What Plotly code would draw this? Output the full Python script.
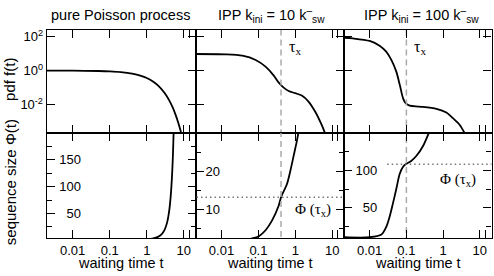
import plotly.graph_objects as go

# ---------------- data ----------------
# pure Poisson process
t_pois_pdf = [0.002, 0.01, 0.05, 0.1, 0.2, 0.4, 0.7, 1.0, 1.5, 2.0, 3.0, 4.0, 5.0, 6.0, 7.0, 8.0, 9.0]
f_pois = [1.0, 0.99, 0.951, 0.905, 0.819, 0.670, 0.497, 0.368, 0.223, 0.135, 0.0498, 0.0183,
          0.00674, 0.00248, 0.000912, 0.000335, 0.000123]
t_pois_phi = [0.8, 1.0, 1.5, 2.0, 2.5, 3.0, 3.5, 4.0, 4.5, 5.0, 5.5]
phi_pois = [1.23, 1.72, 3.48, 6.39, 11.2, 19.1, 32.1, 53.6, 89.0, 147.0, 244.0]

# IPP k_ini = 10 k_sw
t_ipp10_pdf = [0.00193, 0.0132, 0.0367, 0.0841, 0.156, 0.261, 0.356, 0.484, 0.661, 1.0, 1.50,
               2.28, 3.44, 5.19, 6.40]
f_ipp10 = [9.55, 9.12, 7.59, 4.27, 1.72, 0.513, 0.195, 0.100, 0.063, 0.0468, 0.0339,
           0.0151, 0.00389, 0.00063, 0.000204]
t_ipp10_phi = [0.05, 0.0757, 0.103, 0.156, 0.235, 0.356, 0.41, 0.594, 0.735, 0.90, 1.10, 1.23]
phi_ipp10 = [2.0, 2.4, 2.86, 4.43, 7.04, 10.95, 13.1, 16.6, 20.1, 24.0, 27.9, 30.5]
tau_ipp10 = 0.41
phi_tau_ipp10 = 13.1

# IPP k_ini = 100 k_sw
t_ipp100_pdf = [0.00193, 0.00347, 0.01, 0.0186, 0.0282, 0.0389, 0.0531, 0.0661, 0.0813, 0.0955,
                0.123, 0.229, 0.661, 1.23, 1.86, 2.82, 3.89]
f_ipp100 = [87.1, 79.4, 56.2, 29.5, 13.2, 4.27, 0.871, 0.145, 0.0234, 0.012, 0.0087, 0.0076,
            0.0056, 0.0034, 0.00158, 0.00065, 0.000204]
t_ipp100_phi = [0.00204, 0.01, 0.0209, 0.0282, 0.0347, 0.0427, 0.0531, 0.0653, 0.0804, 0.0955,
                0.135, 0.186, 0.282, 0.407]
phi_ipp100 = [11.0, 11.0, 14.6, 24.6, 37.8, 55.4, 75.1, 94.9, 104.5, 108.0, 112.4, 119.0, 132.1, 149.6]
tau_ipp100 = 0.1
phi_tau_ipp100 = 108.0

x_tickvals = [0.01, 0.1, 1, 10, 14]
x_ticktext = ["0.01", "0.1", "1", "10", ""]
pdf_tickvals = [0.01, 1, 100]
pdf_ticktext = ["10<sup>-2</sup>", "10<sup>0</sup>", "10<sup>2</sup>"]
phi_ranges = [[4.4, 200.7], [2.4, 30.1], [10, 150]]
phi_major = [[50, 100, 150], [10, 20], [50, 100]]
phi_minor = [[25, 75, 125, 175], [5, 15, 25], [25, 75, 125]]
titles = ["pure Poisson process",
          "IPP k<sub>ini</sub> = 10 k<sup>–</sup><sub>sw</sub>",
          "IPP k<sub>ini</sub> = 100 k<sup>–</sup><sub>sw</sub>"]

# ---------------- layout geometry ----------------
W, H = 494, 276
def px(x):
    return x / W
def py(y):
    return 1 - y / H

XL = [46.7, 195.7, 344.0, 491.5]
YT, YM, YB = 28.3, 131.7, 237.7
FONT = "Liberation Sans, Arial, Helvetica, sans-serif"
SERIF = "Liberation Serif, Times New Roman, serif"
label_standoff = [-38, -28, -37]

fig = go.Figure()

pdf_sets = [(t_pois_pdf, f_pois), (t_ipp10_pdf, f_ipp10), (t_ipp100_pdf, f_ipp100)]
phi_sets = [(t_pois_phi, phi_pois), (t_ipp10_phi, phi_ipp10), (t_ipp100_phi, phi_ipp100)]

for i in range(3):
    xt, yt = ("x" if i == 0 else f"x{i+1}"), ("y" if i == 0 else f"y{i+1}")
    xb, yb = f"x{i+4}", f"y{i+4}"
    fig.add_trace(go.Scatter(x=pdf_sets[i][0], y=pdf_sets[i][1], mode="lines",
                             line=dict(color="black", width=1.8, shape="spline", smoothing=0.8),
                             xaxis=xt, yaxis=yt, showlegend=False, hoverinfo="skip"))
    fig.add_trace(go.Scatter(x=phi_sets[i][0], y=phi_sets[i][1], mode="lines",
                             line=dict(color="black", width=1.8, shape="spline", smoothing=0.8),
                             xaxis=xb, yaxis=yb, showlegend=False, hoverinfo="skip"))

# tau_x dashed lines and Phi(tau_x) dotted lines
for i, tau, phit in [(1, tau_ipp10, phi_tau_ipp10), (2, tau_ipp100, phi_tau_ipp100)]:
    xt, yt = f"x{i+1}", f"y{i+1}"
    xb, yb = f"x{i+4}", f"y{i+4}"
    dash = dict(color="#aaaaaa", width=1.5, dash="6px,4px")
    fig.add_trace(go.Scatter(x=[tau, tau], y=[1e-5, 1e4], mode="lines", line=dash,
                             xaxis=xt, yaxis=yt, showlegend=False, hoverinfo="skip"))
    fig.add_trace(go.Scatter(x=[tau, tau], y=[-50, 400], mode="lines", line=dash,
                             xaxis=xb, yaxis=yb, showlegend=False, hoverinfo="skip"))
    x_start = 0.0021 if i == 1 else 0.03
    fig.add_trace(go.Scatter(x=[x_start, 30], y=[phit, phit], mode="lines",
                             line=dict(color="#777777", width=1.5, dash="1.5px,3px"),
                             xaxis=xb, yaxis=yb, showlegend=False, hoverinfo="skip"))

axis_common = dict(showline=True, linecolor="black", linewidth=1.3, mirror="ticks",
                   ticks="inside", ticklen=8, tickwidth=1.2, tickcolor="black",
                   showgrid=False, zeroline=False,
                   tickfont=dict(family=FONT, size=13, color="black"))

layout = dict(width=W, height=H, margin=dict(l=0, r=0, t=0, b=0),
              paper_bgcolor="white", plot_bgcolor="white",
              font=dict(family=FONT, color="black"), showlegend=False)

for i in range(3):
    xdom = [px(XL[i]), px(XL[i + 1])]
    kx = "xaxis" if i == 0 else f"xaxis{i+1}"
    ky = "yaxis" if i == 0 else f"yaxis{i+1}"
    layout[kx] = dict(axis_common, type="log", range=[-2.70, 1.32], domain=xdom,
                      anchor="y" if i == 0 else f"y{i+1}",
                      tickmode="array", tickvals=x_tickvals, ticktext=x_ticktext,
                      showticklabels=False)
    layout[ky] = dict(axis_common, type="log", range=[-3.66, 2.39],
                      domain=[py(YM), py(YT)], anchor="x" if i == 0 else f"x{i+1}",
                      tickmode="array", tickvals=pdf_tickvals, ticktext=pdf_ticktext,
                      showticklabels=(i == 0))
    layout[f"xaxis{i+4}"] = dict(axis_common, type="log", range=[-2.70, 1.32], domain=xdom,
                                 anchor=f"y{i+4}", tickmode="array", tickangle=0,
                                 tickvals=x_tickvals, ticktext=x_ticktext)
    layout[f"yaxis{i+4}"] = dict(axis_common, range=phi_ranges[i], domain=[py(YB), py(YM)],
                                 anchor=f"x{i+4}", tickmode="array",
                                 tickvals=phi_major[i],
                                 ticktext=[str(v) for v in phi_major[i]],
                                 ticklabelposition="outside",
                                 ticklabelstandoff=label_standoff[i],
                                 minor=dict(tickmode="array", tickvals=phi_minor[i],
                                            ticks="inside", ticklen=5, tickwidth=1.2,
                                            tickcolor="black", showgrid=False))

fig.update_layout(**layout)

ann = []
centers = [120.0, 271.0, 421.0]
for i in range(3):
    ann.append(dict(text=titles[i], x=px(centers[i]), y=py(13.5), xref="paper", yref="paper",
                    xanchor="center", yanchor="middle", showarrow=False,
                    font=dict(family=FONT, size=14.5, color="black")))
    ann.append(dict(text="waiting time t", x=px((XL[i] + XL[i + 1]) / 2), y=py(263),
                    xref="paper", yref="paper", xanchor="center", yanchor="middle",
                    showarrow=False, font=dict(family=FONT, size=14.5, color="black")))
ann.append(dict(text="pdf f(t)", x=px(10), y=py(78.5), xref="paper", yref="paper",
                textangle=-90, xanchor="center", yanchor="middle", showarrow=False,
                font=dict(family=FONT, size=15, color="black")))
ann.append(dict(text="sequence size Φ(t)", x=px(10), y=py(181.5), xref="paper", yref="paper",
                textangle=-90, xanchor="center", yanchor="middle", showarrow=False,
                font=dict(family=FONT, size=15, color="black")))
ann.append(dict(text="τ<sub>x</sub>", x=px(287), y=py(46), xref="paper", yref="paper",
                xanchor="left", yanchor="middle", showarrow=False,
                font=dict(family=SERIF, size=16, color="black")))
ann.append(dict(text="τ<sub>x</sub>", x=px(411.5), y=py(46), xref="paper", yref="paper",
                xanchor="left", yanchor="middle", showarrow=False,
                font=dict(family=SERIF, size=16, color="black")))
ann.append(dict(text="Φ (τ<sub>x</sub>)", x=px(292.5), y=py(210), xref="paper", yref="paper",
                xanchor="left", yanchor="middle", showarrow=False,
                font=dict(family=SERIF, size=15, color="black")))
ann.append(dict(text="Φ (τ<sub>x</sub>)", x=px(437.5), y=py(179), xref="paper", yref="paper",
                xanchor="left", yanchor="middle", showarrow=False,
                font=dict(family=SERIF, size=15, color="black")))
fig.update_layout(annotations=ann)

fig.write_html("out.html", config={"displayModeBar": False},
               post_script="document.body.style.margin='0';document.body.style.overflow='hidden';")
